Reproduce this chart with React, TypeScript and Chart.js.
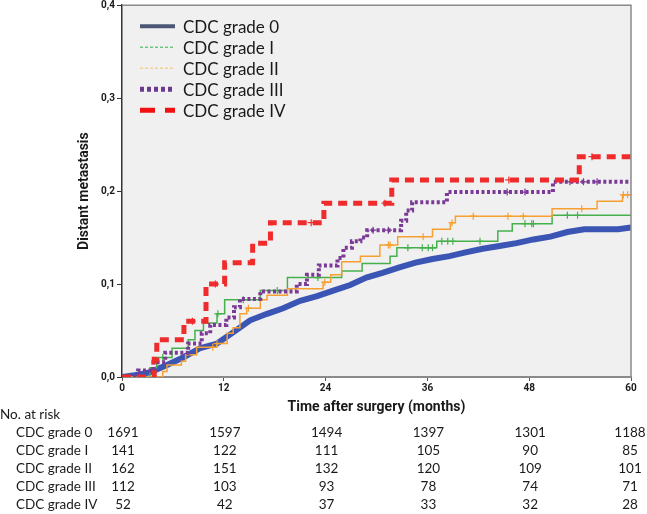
import React, { useEffect, useRef } from 'react';
import { Chart, registerables } from 'chart.js';

Chart.register(...registerables);

// ---- Data ----
const seriesLabels = ['CDC grade 0', 'CDC grade I', 'CDC grade II', 'CDC grade III', 'CDC grade IV'];

const xTickValues = [0, 12, 24, 36, 48, 60];
const yTickValues = [0, 0.1, 0.2, 0.3, 0.4];

// CDC grade 0 (cumulative incidence, dense curve)
const grade0Times = [0, 1.5, 3.3, 5.3, 7.2, 9.2, 11.2, 13.1, 15.1, 17.1, 19.0, 21.0, 23.0, 24.9, 26.9, 28.8, 30.7, 32.7, 34.6, 36.6, 38.6, 40.5, 42.5, 44.5, 46.5, 48.5, 50.5, 52.5, 54.5, 56.5, 58.5, 60];
const grade0Values = [0, 0.002, 0.005, 0.013, 0.021, 0.031, 0.036, 0.048, 0.061, 0.068, 0.074, 0.082, 0.087, 0.093, 0.099, 0.107, 0.112, 0.118, 0.123, 0.127, 0.130, 0.134, 0.138, 0.141, 0.144, 0.148, 0.151, 0.156, 0.159, 0.159, 0.159, 0.161];

// CDC grade I
const grade1Times = [0, 3.3, 4.1, 5.9, 7.8, 8.6, 9.6, 11.2, 12.1, 16.3, 19.5, 25.9, 28.3, 31.6, 32.4, 37.1, 44.3, 46.0, 50.7, 60];
const grade1Values = [0, 0.010, 0.021, 0.031, 0.040, 0.050, 0.058, 0.068, 0.083, 0.093, 0.107, 0.114, 0.122, 0.130, 0.139, 0.146, 0.157, 0.165, 0.174, 0.174];
const grade1Censored = [4.8, 11.3, 14.3, 18.3, 23.1, 33.7, 35.4, 36.1, 36.6, 37.7, 38.4, 39.0, 42.2, 47.5, 48.3, 48.5, 52.5, 53.7];

// CDC grade II
const grade2Times = [0, 4.8, 5.3, 7.0, 7.5, 8.8, 11.2, 12.4, 13.1, 13.9, 14.7, 16.3, 17.1, 19.5, 23.7, 24.6, 25.9, 28.1, 30.4, 32.5, 36.6, 38.7, 39.3, 50.7, 56.0, 59.0, 60];
const grade2Values = [0, 0.006, 0.013, 0.017, 0.024, 0.032, 0.036, 0.047, 0.053, 0.068, 0.074, 0.083, 0.088, 0.095, 0.102, 0.110, 0.124, 0.130, 0.142, 0.151, 0.159, 0.166, 0.173, 0.181, 0.189, 0.196, 0.196];
const grade2Censored = [10.7, 11.2, 14.9, 23.9, 31.4, 31.6, 35.5, 38.9, 41.4, 45.5, 47.3, 54.2, 59.1, 59.6];

// CDC grade III
const grade3Times = [0, 1.9, 3.7, 5.1, 7.8, 9.4, 10.4, 12.3, 13.2, 13.9, 16.3, 20.6, 21.8, 23.2, 25.4, 26.1, 27.1, 28.1, 28.9, 32.9, 33.5, 34.2, 38.3, 50.8, 60];
const grade3Values = [0, 0.007, 0.016, 0.026, 0.036, 0.047, 0.056, 0.064, 0.075, 0.084, 0.092, 0.100, 0.110, 0.120, 0.128, 0.139, 0.146, 0.150, 0.158, 0.168, 0.179, 0.188, 0.199, 0.210, 0.210];
const grade3Censored = [29.6, 31.4, 45.4, 47.5, 52.8, 54.4, 56.0];

// CDC grade IV
const grade4Times = [0, 3.8, 4.1, 7.3, 9.9, 12.1, 15.4, 17.5, 23.8, 31.8, 53.9, 60];
const grade4Values = [0, 0.019, 0.040, 0.060, 0.100, 0.123, 0.144, 0.166, 0.187, 0.212, 0.237, 0.237];
const grade4Censored = [8.3, 11.0, 22.3, 31.0, 45.6, 55.4];

// Numbers at risk
const riskTimes = [0, 12, 24, 36, 48, 60];
const riskGrade0 = [1691, 1597, 1494, 1397, 1301, 1188];
const riskGrade1 = [141, 122, 111, 105, 90, 85];
const riskGrade2 = [162, 151, 132, 120, 109, 101];
const riskGrade3 = [112, 103, 93, 78, 74, 71];
const riskGrade4 = [52, 42, 37, 33, 32, 28];

// ---- Styles ----
const lineColors = ['#3b55b4', '#45b04c', '#f5a030', '#7a3a96', '#ef2b2b'];
const legendColors = ['#4b5675', '#2db34a', '#f5c06a', '#6b3a8e', '#f01010'];

function stepAt(times: number[], values: number[], t: number) {
  let v = values[0];
  for (let i = 0; i < times.length; i++) if (times[i] <= t) v = values[i];
  return v;
}

function toXY(times: number[], values: number[]) {
  return times.map((t, i) => ({ x: t, y: values[i] }));
}

const decorPlugin = {
  id: 'decor',
  beforeDraw(chart: any) {
    const { ctx, chartArea } = chart;
    const { left, right, top, bottom } = chartArea;
    ctx.save();
    ctx.fillStyle = '#f0f0f0';
    ctx.fillRect(left, top, right - left, bottom - top);
    ctx.restore();
  },
  afterDraw(chart: any) {
    const { ctx, chartArea, scales } = chart;
    const { left, right, top, bottom } = chartArea;
    const xs = scales.x;
    ctx.save();
    // top & right frame
    ctx.strokeStyle = '#8a8a8a';
    ctx.lineWidth = 1.5;
    ctx.setLineDash([]);
    ctx.beginPath();
    ctx.moveTo(left, top);
    ctx.lineTo(right, top);
    ctx.lineTo(right, bottom);
    ctx.stroke();

    // legend
    const legendStyles = [
      { w: 4, dash: [] as number[] },
      { w: 1, dash: [3, 2] },
      { w: 1, dash: [3, 2] },
      { w: 5, dash: [4, 3] },
      { w: 5, dash: [15, 10] },
    ];
    ctx.font = '17px Lato';
    ctx.textBaseline = 'middle';
    ctx.textAlign = 'left';
    seriesLabels.forEach((lab, i) => {
      const y = top + 21 + i * 21;
      ctx.strokeStyle = legendColors[i];
      ctx.lineWidth = legendStyles[i].w;
      ctx.setLineDash(legendStyles[i].dash);
      ctx.lineCap = 'butt';
      ctx.beginPath();
      ctx.moveTo(left + 18, y);
      ctx.lineTo(left + 53, y);
      ctx.stroke();
      ctx.setLineDash([]);
      ctx.fillStyle = '#1a1a1a';
      ctx.fillText(lab, left + 61, y + 1);
    });

    // y title
    ctx.save();
    ctx.translate(84, (top + bottom) / 2);
    ctx.rotate(-Math.PI / 2);
    ctx.font = 'bold 14px Roboto';
    ctx.fillStyle = '#1a1a1a';
    ctx.textAlign = 'center';
    ctx.textBaseline = 'middle';
    ctx.fillText('Distant metastasis', 0, 0);
    ctx.restore();

    // x title
    ctx.font = 'bold 14px Roboto';
    ctx.fillStyle = '#1a1a1a';
    ctx.textAlign = 'center';
    ctx.textBaseline = 'middle';
    ctx.fillText('Time after surgery (months)', (left + right) / 2, bottom + 30);

    // risk table
    ctx.font = '13.5px Lato';
    ctx.textBaseline = 'middle';
    ctx.textAlign = 'left';
    ctx.fillStyle = '#1a1a1a';
    ctx.fillText('No. at risk', 0, bottom + 38);
    const rows = [riskGrade0, riskGrade1, riskGrade2, riskGrade3, riskGrade4];
    rows.forEach((row, r) => {
      const y = bottom + 56 + r * 18;
      ctx.textAlign = 'left';
      ctx.fillText(seriesLabels[r], 16, y);
      ctx.textAlign = 'center';
      row.forEach((n, c) => {
        const px = xs.getPixelForValue(riskTimes[c]);
        ctx.fillText(String(n), Math.min(px + 1, 630), y);
      });
    });
    ctx.restore();
  },
};

export default function App() {
  const canvasRef = useRef<HTMLCanvasElement | null>(null);

  useEffect(() => {
    document.body.style.margin = '0';
    const canvas = canvasRef.current;
    if (!canvas) return;

    const lineSets = [
      { t: grade0Times, v: grade0Values, w: 6, dash: [] as number[], stepped: false },
      { t: grade1Times, v: grade1Values, w: 1.5, dash: [], stepped: true },
      { t: grade2Times, v: grade2Values, w: 1.5, dash: [], stepped: true },
      { t: grade3Times, v: grade3Values, w: 4, dash: [3, 2.5], stepped: true },
      { t: grade4Times, v: grade4Values, w: 5, dash: [9, 6], stepped: true },
    ];
    const censorSets = [
      null,
      grade1Censored,
      grade2Censored,
      grade3Censored,
      grade4Censored,
    ];

    const datasets: any[] = [];
    lineSets.forEach((s, i) => {
      datasets.push({
        type: 'line',
        label: seriesLabels[i],
        data: toXY(s.t, s.v),
        borderColor: lineColors[i],
        borderWidth: s.w,
        borderDash: s.dash,
        stepped: s.stepped ? 'before' : false,
        tension: 0,
        pointRadius: 0,
        fill: false,
        order: 10 - i,
      });
      const cs = censorSets[i];
      if (cs) {
        datasets.push({
          type: 'scatter',
          label: seriesLabels[i] + ' censored',
          data: cs.map((t) => ({ x: t, y: stepAt(s.t, s.v, t) })),
          pointStyle: 'cross',
          pointRadius: 3.5,
          borderColor: lineColors[i],
          backgroundColor: lineColors[i],
          borderWidth: 1.2,
          showLine: false,
          order: 10 - i,
        });
      }
    });

    const chart = new Chart(canvas, {
      type: 'line',
      data: { datasets },
      plugins: [decorPlugin],
      options: {
        responsive: false,
        animation: false,
        devicePixelRatio: 1,
        layout: { padding: { left: 0, right: 16, top: 3, bottom: 0 } },
        plugins: {
          legend: { display: false },
          tooltip: { enabled: false },
          title: { display: false },
        },
        scales: {
          x: {
            type: 'linear',
            min: 0,
            max: 60,
            afterBuildTicks: (s: any) => {
              s.ticks = xTickValues.map((v) => ({ value: v }));
            },
            afterFit: (s: any) => {
              s.height = 137;
              s.paddingLeft = 0;
              s.paddingRight = 0;
            },
            grid: { display: true, drawOnChartArea: false, drawTicks: true, tickLength: 4, color: '#555' },
            border: { display: true, color: '#8a8a8a', width: 2 },
            ticks: {
              font: { family: 'Roboto', weight: 'bold', size: 10 },
              color: '#1a1a1a',
              padding: 1,
              maxRotation: 0,
              callback: (v: any) => String(v),
            },
          },
          y: {
            type: 'linear',
            min: 0,
            max: 0.4,
            afterBuildTicks: (s: any) => {
              s.ticks = yTickValues.map((v) => ({ value: v }));
            },
            afterFit: (s: any) => {
              s.width = 122;
              s.paddingTop = 0;
              s.paddingBottom = 0;
            },
            grid: { display: true, drawOnChartArea: false, drawTicks: true, tickLength: 5, color: '#333' },
            border: { display: true, color: '#333', width: 1.5 },
            ticks: {
              font: { family: 'Roboto', weight: 'bold', size: 10 },
              color: '#1a1a1a',
              padding: 2,
              callback: (v: any) => Number(v).toFixed(1).replace('.', ','),
            },
          },
        },
      },
    });
    return () => chart.destroy();
  }, []);

  return (
    <div style={{ width: 647, height: 514 }}>
      <canvas ref={canvasRef} width={647} height={514} style={{ display: 'block', width: 647, height: 514 }} />
    </div>
  );
}
